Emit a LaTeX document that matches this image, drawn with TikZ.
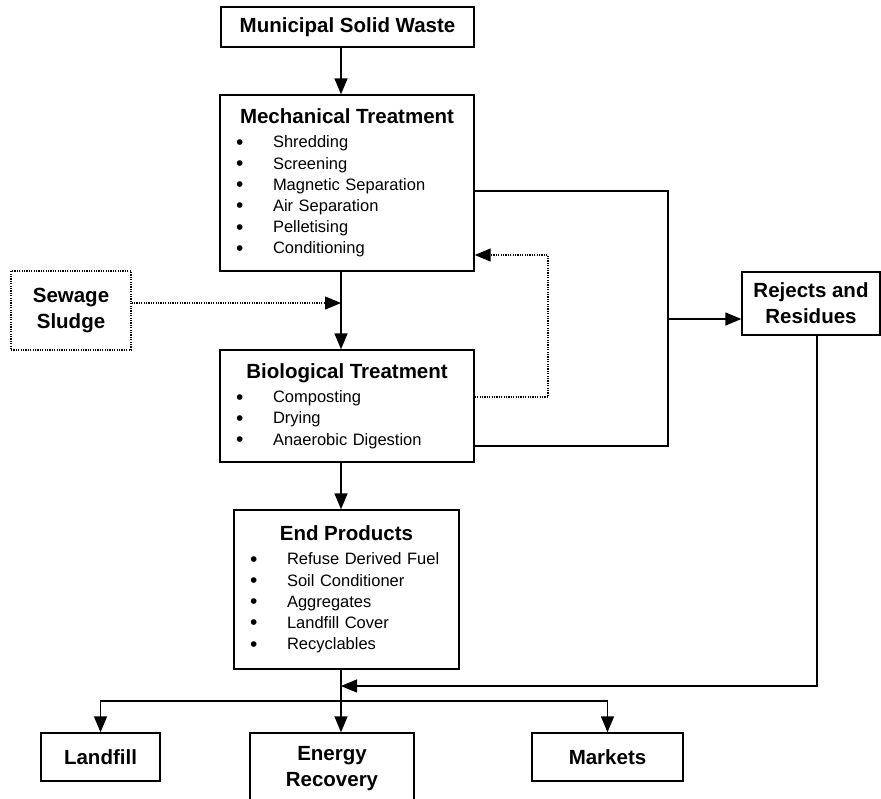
\documentclass[tikz,border=0pt]{standalone}
\usepackage{fontspec}
\setmainfont{Liberation Sans}
\usetikzlibrary{arrows.meta,positioning}
\setlength{\parindent}{0pt}
\newcommand{\headfont}{\fontsize{10.25pt}{13pt}\selectfont\bfseries}
\newcommand{\listfont}{\fontsize{8.25pt}{10.6pt}\selectfont}
\newcommand{\boxhead}[1]{{\centering\headfont #1\par}\vspace{1.5pt}}
\newcommand{\bitem}[1]{\par\hspace*{8pt}\makebox[18.5pt][l]{\raisebox{-0.7pt}{\fontsize{10.5pt}{10.6pt}\selectfont\textbullet}}#1}

\begin{document}
\begin{tikzpicture}[
  x=0.5pt, y=-0.5pt,
  box/.style={draw, line width=0.7pt, inner sep=0pt, align=center, font=\headfont},
  dotbox/.style={box, dash pattern=on 0.6pt off 0.6pt, line width=0.6pt},
  listbox/.style={draw, line width=0.7pt, inner sep=0pt, text width=#1, align=left, font=\listfont},
  wire/.style={line width=0.7pt},
  line/.style={-{Triangle[length=8pt,width=6.5pt]}, line width=0.7pt},
  dotline/.style={line, line width=0.6pt, dash pattern=on 0.6pt off 0.6pt}
]
\useasboundingbox (0,0) rectangle (881,798);
\clip (0,0) rectangle (881,798);

\node[box, minimum width=126.5pt, minimum height=20pt] (msw) at (347.5,27) {Municipal Solid Waste};
\node[listbox=127pt, minimum height=88pt] (mech) at (347,183) {\boxhead{Mechanical Treatment}%
  \bitem{Shredding}\bitem{Screening}\bitem{Magnetic Separation}%
  \bitem{Air Separation}\bitem{Pelletising}\bitem{Conditioning}};
\node[dotbox, minimum width=60pt, minimum height=39.5pt] (sludge) at (71,310.5) {Sewage\\Sludge};
\node[listbox=127pt, minimum height=56pt] (bio) at (347,406) {\boxhead{Biological Treatment}%
  \bitem{Composting}\bitem{Drying}\bitem{Anaerobic Digestion}};
\node[box, minimum width=69pt, minimum height=31.5pt] (rejects) at (811,303.5) {Rejects and\\Residues};
\node[listbox=112.5pt, minimum height=79.5pt] (ends) at (346.5,589.5) {\boxhead{End Products}%
  \bitem{Refuse Derived Fuel}\bitem{Soil Conditioner}\bitem{Aggregates}%
  \bitem{Landfill Cover}\bitem{Recyclables}};
\node[box, minimum width=59.5pt, minimum height=24pt] (landfill) at (100.5,757) {Landfill};
\node[box, minimum width=82pt, minimum height=36pt] (energy) at (332,769) {Energy\\Recovery};
\node[box, minimum width=75.5pt, minimum height=24pt] (markets) at (607.5,757) {Markets};

% junction points on the lines
\coordinate (trunk) at (341,0);
\coordinate (join) at (341,303);
\coordinate (bus) at (668,319);
\coordinate (loop) at (548,255);
\coordinate (ret) at (341,686);
\coordinate (split) at (341,701);

\draw[line] (msw.south -| trunk) -- (mech.north -| trunk);
\draw[line] (mech.south -| trunk) -- (bio.north -| trunk);
\draw[dotline] (sludge.east |- join) -- (join);
\draw[wire] (mech.east |- 0,191) -| (bus) |- (bio.east |- 0,446);
\draw[line] (bus) -- (rejects.west |- bus);
\draw[dotline] (bio.east |- 0,397) -| (loop) -- (mech.east |- loop);
\draw[line] (bio.south -| trunk) -- (ends.north -| trunk);
\draw[wire] (ends.south -| trunk) -- (split);
\draw[line] (split) -- (energy.north -| trunk);
\draw[line] (split) -| (landfill.north);
\draw[line] (split) -| (markets.north);
\draw[line] ([xshift=3pt]rejects.south) |- (ret);
\end{tikzpicture}
\end{document}
